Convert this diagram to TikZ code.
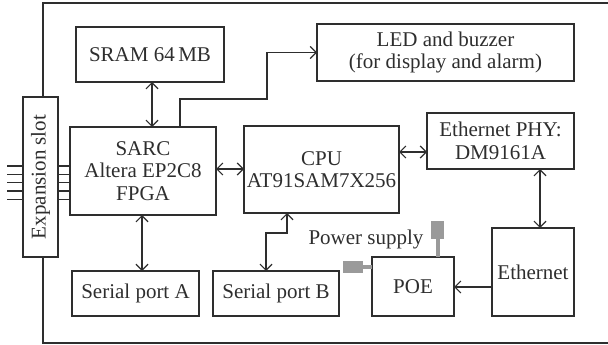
\documentclass[tikz,border=0pt]{standalone}
\usepackage{fontspec}
\setmainfont{Liberation Serif}
\usetikzlibrary{arrows.meta}
\definecolor{ink}{HTML}{2E2E2E}
\definecolor{plugc}{HTML}{9A9A9A}
\begin{document}
\begin{tikzpicture}[x=1pt, y=-1pt,
    box/.style={draw=ink, line width=1.3pt, inner sep=0pt, outer sep=0pt,
      align=center, text=ink, font=\fontsize{21}{22.5}\selectfont},
    link/.style={draw=ink, line width=1.2pt},
    tip/.style={-{Straight Barb[length=6pt,width=12pt]}},
    dbl/.style={{Straight Barb[length=6pt,width=12pt]}-{Straight Barb[length=6pt,width=12pt]}},
    plug/.style={fill=plugc, draw=none}]
  \useasboundingbox (0,0) rectangle (608,345);
  \clip (0,0) rectangle (608,345);

  % Board outline
  \draw[link, line width=1.3pt] (43,3) rectangle (640,343);

  % Blocks
  \node[box, minimum width=148, minimum height=55] (sram) at (150,54.5) {SRAM 64\,MB};
  \node[box, minimum width=257, minimum height=57] (led) at (445.5,52.5) {LED and buzzer\\(for display and alarm)};
  \node[box, minimum width=146, minimum height=88] (sarc) at (143,171) {SARC\\Altera EP2C8\\FPGA};
  \node[box, minimum width=155, minimum height=87] (cpu) at (321.5,169.5) {CPU\\AT91SAM7X256};
  \node[box, minimum width=147, minimum height=56] (phy) at (500.5,141) {Ethernet PHY:\\DM9161A};
  \node[box, minimum width=82, minimum height=88] (eth) at (533,272) {Ethernet};
  \node[box, minimum width=82, minimum height=59] (poe) at (413,286.5) {POE};
  \node[box, minimum width=127, minimum height=45] (sera) at (135.5,293.5) {Serial port A};
  \node[box, minimum width=126, minimum height=45] (serb) at (276,293.5) {Serial port B};
  \node[box, fill=white, rotate=90, minimum width=160, minimum height=35] (slot) at (40.5,177) {Expansion slot};

  % Expansion pins
  \foreach \y in {166,174.3,182.6,190.9,199.2} {
    \draw[link] (slot.north |- 0,\y) -- ++(-16,0);
    \draw[link] (slot.south |- 0,\y) -- (sarc.west |- 0,\y);
  }

  % Buses
  \draw[link, dbl] (sram.south -| 152,0) -- (sarc.north -| 152,0);
  \draw[link, dbl] (sarc.south -| 142,0) -- (sera.north -| 142,0);
  \draw[link, dbl] (sarc.east |- 0,169) -- (cpu.west |- 0,169);
  \draw[link, dbl] (cpu.east |- 0,152) -- (phy.west |- 0,152);
  \draw[link, dbl] (phy.south -| 540,0) -- (eth.north -| 540,0);
  \draw[link, tip] (eth.west |- 0,287) -- (poe.east |- 0,287);
  \draw[link, tip] (sarc.north -| 180,0) |- (267,99) |- (led.west);
  \draw[link, dbl] (serb.north -| 266,0) |- (287,233) -- (cpu.south -| 287,0);

  % Power supply
  \node[text=ink, font=\fontsize{21}{22.5}\selectfont] (pwr) at (366,239) {Power supply};
  \fill[plug] (431,221) rectangle (444,239);
  \fill[plug] (343,261) rectangle (363,273);
  \draw[plugc, line width=4pt] (437.5,239) -- (poe.north -| 437.5,0);
  \draw[plugc, line width=4pt] (363,267) -- (poe.west |- 0,267);
\end{tikzpicture}
\end{document}
